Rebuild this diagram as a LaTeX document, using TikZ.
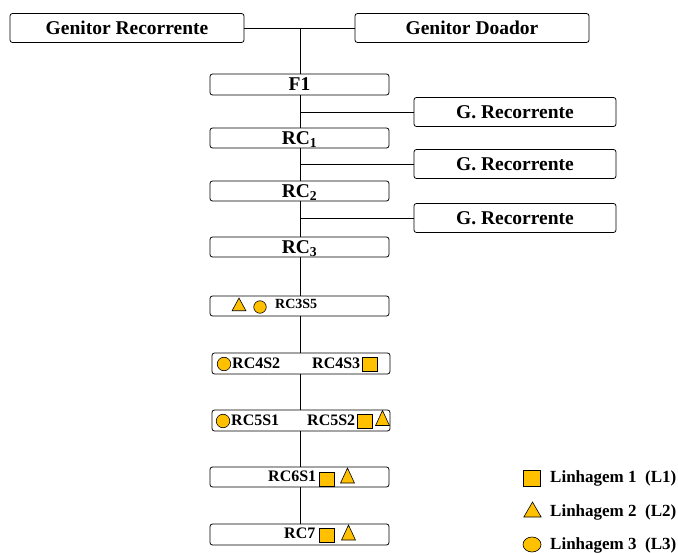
\documentclass[tikz,border=0pt]{standalone}
\usepackage{fontspec}
\setmainfont{Liberation Serif}
\usetikzlibrary{shapes.geometric}
\definecolor{gold}{HTML}{FFC000}
\tikzset{
  box/.style={draw, rounded corners=2.5pt, line width=0.8pt, inner sep=0pt, text height=15pt, text depth=2pt, font=\bfseries\fontsize{19.5}{20}\selectfont},
  link/.style={line width=0.8pt},
  sq/.style={draw, fill=gold, line width=0.6pt, minimum width=15pt, minimum height=14pt, inner sep=0pt},
  tri/.style={draw, fill=gold, line width=0.6pt, regular polygon, regular polygon sides=3, minimum size=16pt, inner sep=0pt, yscale=1.25, transform shape},
  circ/.style={draw, fill=gold, line width=0.6pt, circle, minimum size=13.5pt, inner sep=0pt},
  lbl/.style={font=\bfseries\fontsize{16}{16}\selectfont, inner sep=0pt, anchor=west},
  lgd/.style={font=\bfseries\fontsize{17}{17}\selectfont, inner sep=0pt, anchor=west},
}
\begin{document}
\begin{tikzpicture}[x=1pt,y=1pt]
\useasboundingbox (0,0) rectangle (678,-553);
% top boxes
\node[box, minimum width=234pt, minimum height=29pt] (gr) at (127,-28) {Genitor Recorrente};
\node[box, minimum width=234pt, minimum height=29pt] (gd) at (472,-28) {Genitor Doador};
\node[box, minimum width=179pt, minimum height=21pt] (f1) at (299.5,-84.5) {F1};
\node[box, minimum width=179pt, minimum height=20pt] (rc1) at (299.5,-138) {RC\textsubscript{1}};
\node[box, minimum width=179pt, minimum height=20pt] (rc2) at (299.5,-191) {RC\textsubscript{2}};
\node[box, minimum width=179pt, minimum height=20pt] (rc3) at (299.5,-247) {RC\textsubscript{3}};
\node[box, minimum width=202pt, minimum height=29pt] (g1) at (515,-112) {G. Recorrente};
\node[box, minimum width=202pt, minimum height=29pt] (g2) at (515,-164) {G. Recorrente};
\node[box, minimum width=202pt, minimum height=29pt] (g3) at (515,-218) {G. Recorrente};
\node[box, minimum width=179pt, minimum height=20pt] (s35) at (299.5,-306) {};
\node[box, minimum width=178pt, minimum height=21pt] (s4) at (301,-363.5) {};
\node[box, minimum width=178pt, minimum height=21pt] (s5) at (301,-420.5) {};
\node[box, minimum width=179pt, minimum height=20pt] (s6) at (299.5,-477) {};
\node[box, minimum width=179pt, minimum height=21pt] (s7) at (299.5,-534.5) {};
% connectors
\coordinate (sp) at (300,-28);
\draw[link] (gr.east) -- (gd.west);
\draw[link] (sp) -- (sp |- f1.north);
\draw[link] (sp |- f1.south) -- (sp |- rc1.north);
\draw[link] (sp |- g1.west) -- (g1.west);
\draw[link] (sp |- rc1.south) -- (sp |- rc2.north);
\draw[link] (sp |- g2.west) -- (g2.west);
\draw[link] (sp |- rc2.south) -- (sp |- rc3.north);
\draw[link] (sp |- g3.west) -- (g3.west);
\draw[link] (sp |- rc3.south) -- (sp |- s35.north);
\draw[link] (sp |- s35.south) -- (sp |- s4.north);
\draw[link] (sp |- s4.south) -- (sp |- s5.north);
\draw[link] (sp |- s5.south) -- (sp |- s6.north);
\draw[link] (sp |- s6.south) -- (sp |- s7.north);
% RC3S5
\node[tri, yscale=0.85] (t35) at (239,-306.5) {};
\node[circ, minimum size=12.5pt] (c35) at (260,-307) {};
\node[lbl, font=\bfseries\fontsize{14}{14}\selectfont] (l35) at (275,-304) {RC3S5};
% RC4
\node[circ] (c4) at (224,-364) {};
\node[lbl] (l42) at (232,-363) {RC4S2};
\node[lbl] (l43) at (312,-363) {RC4S3};
\node[sq] (q4) at (370,-364) {};
% RC5
\node[circ] (c5) at (223,-421) {};
\node[lbl] (l51) at (231,-420) {RC5S1};
\node[lbl] (l52) at (307,-420) {RC5S2};
\node[sq] (q5) at (365,-421) {};
\node[tri] (t5) at (382.5,-420.5) {};
% RC6
\node[lbl] (l6) at (268,-476) {RC6S1};
\node[sq] (q6) at (327,-479) {};
\node[tri] (t6) at (347.5,-478) {};
% RC7
\node[lbl] (l7) at (284,-533) {RC7};
\node[sq] (q7) at (327,-535) {};
\node[tri] (t7) at (348.5,-535) {};
% legend
\node[sq, minimum width=17pt, minimum height=16pt] (lq) at (531.5,-478) {};
\node[lgd] (ll1) at (550,-478) {Linhagem 1\ \ (L1)};
\node[draw, fill=gold, line width=0.6pt, regular polygon, regular polygon sides=3, minimum size=20pt, inner sep=0pt] (lt) at (532.5,-512) {};
\node[lgd] (ll2) at (550,-512) {Linhagem 2\ \ (L2)};
\node[draw, fill=gold, line width=0.6pt, ellipse, minimum width=18pt, minimum height=15pt, inner sep=0pt] (lc) at (532,-544.5) {};
\node[lgd] (ll3) at (550,-545) {Linhagem 3\ \ (L3)};
\end{tikzpicture}
\end{document}
